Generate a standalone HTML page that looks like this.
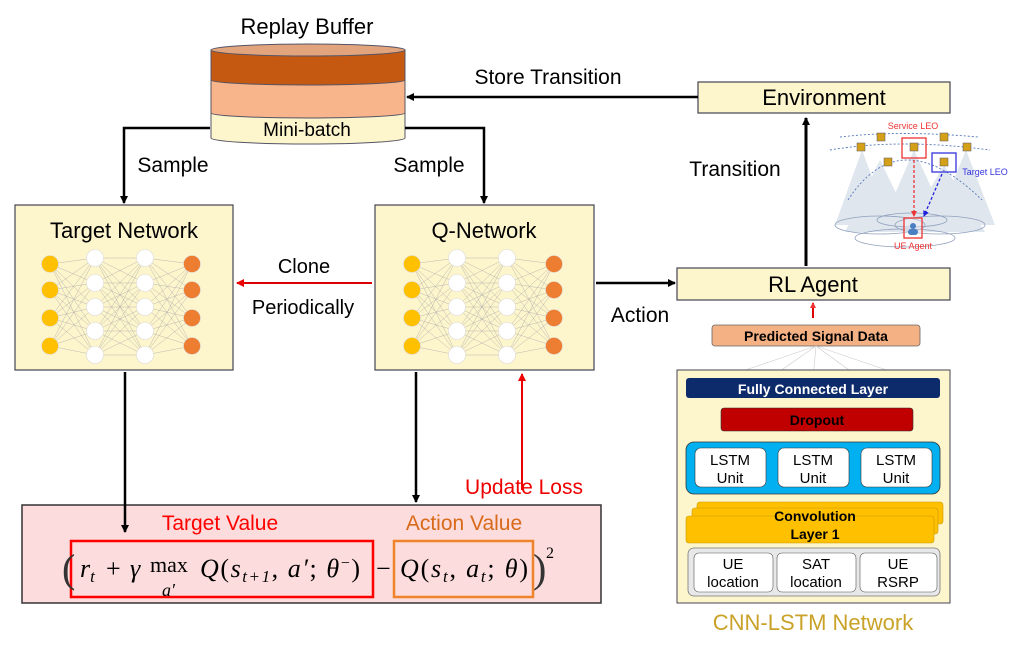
<!DOCTYPE html>
<html><head><meta charset="utf-8"><style>
body{margin:0;background:#fff;}
svg{display:block;font-family:"Liberation Sans",sans-serif;}
</style></head><body>
<svg width="1028" height="645" viewBox="0 0 1028 645" xmlns="http://www.w3.org/2000/svg">
<defs>
<marker id="ab" markerWidth="8" markerHeight="8" refX="7" refY="4" orient="auto" markerUnits="userSpaceOnUse"><path d="M0,0 L8,4 L0,8 z" fill="#000"/></marker>
<marker id="ar" markerWidth="8" markerHeight="8" refX="7" refY="4" orient="auto" markerUnits="userSpaceOnUse"><path d="M0,0 L8,4 L0,8 z" fill="#e00"/></marker>
<marker id="ab2" markerWidth="6" markerHeight="6" refX="5" refY="3" orient="auto" markerUnits="userSpaceOnUse"><path d="M0,0 L6,3 L0,6 z" fill="#22d"/></marker>
<marker id="ar2" markerWidth="6" markerHeight="6" refX="5" refY="3" orient="auto" markerUnits="userSpaceOnUse"><path d="M0,0 L6,3 L0,6 z" fill="#e33"/></marker>
</defs>

<!-- Replay buffer -->
<text x="307" y="34" font-size="22" text-anchor="middle">Replay Buffer</text>
<path d="M211,113 L211,138 A97,6 0 0 0 405,138 L405,113 z" fill="#fdf5cc" stroke="#556" stroke-width="1"/>
<path d="M211,80 L211,113 A97,5 0 0 0 405,113 L405,80 z" fill="#f8b48a" stroke="#556" stroke-width="1"/>
<path d="M211,50 L211,80 A97,5 0 0 0 405,80 L405,50 z" fill="#c65911" stroke="#556" stroke-width="1"/>
<ellipse cx="308" cy="50" rx="97" ry="6" fill="#e2a47c" stroke="#556" stroke-width="1"/>
<text x="307" y="136" font-size="19" text-anchor="middle">Mini-batch</text>

<!-- Environment -->
<rect x="698" y="82" width="252" height="31" fill="#fdf5cc" stroke="#445" stroke-width="1.2"/>
<text x="824" y="105" font-size="22" text-anchor="middle">Environment</text>
<line x1="698" y1="97" x2="407" y2="97" stroke="#000" stroke-width="2.5" marker-end="url(#ab)"/>
<text x="548" y="84" font-size="21" text-anchor="middle">Store Transition</text>

<!-- Sample arrows -->
<polyline points="210,128 124,128 124,203" fill="none" stroke="#000" stroke-width="2.5" marker-end="url(#ab)"/>
<polyline points="405,128 484,128 484,203" fill="none" stroke="#000" stroke-width="2.5" marker-end="url(#ab)"/>
<text x="173" y="172" font-size="21" text-anchor="middle">Sample</text>
<text x="429" y="172" font-size="21" text-anchor="middle">Sample</text>

<!-- Networks -->
<rect x="15" y="205" width="218" height="165" fill="#fdf5cc" stroke="#445" stroke-width="1.2"/>
<text x="124" y="238" font-size="22" text-anchor="middle">Target Network</text>
<rect x="375" y="205" width="219" height="165" fill="#fdf5cc" stroke="#445" stroke-width="1.2"/>
<text x="484" y="238" font-size="22" text-anchor="middle">Q-Network</text>

<!-- Clone -->
<line x1="372" y1="283" x2="237" y2="283" stroke="#d00" stroke-width="2" marker-end="url(#ar)"/>
<text x="304" y="273" font-size="20" text-anchor="middle">Clone</text>
<text x="303" y="314" font-size="20" text-anchor="middle">Periodically</text>

<!-- Action -->
<line x1="596" y1="283" x2="675" y2="283" stroke="#000" stroke-width="2.5" marker-end="url(#ab)"/>
<text x="640" y="322" font-size="21" text-anchor="middle">Action</text>

<!-- RL agent -->
<rect x="677" y="268" width="273" height="32" fill="#fdf5cc" stroke="#445" stroke-width="1.2"/>
<text x="813" y="292" font-size="22" text-anchor="middle">RL Agent</text>
<line x1="806" y1="266" x2="806" y2="118" stroke="#000" stroke-width="3" marker-end="url(#ab)"/>
<text x="735" y="176" font-size="21" text-anchor="middle">Transition</text>
<line x1="813" y1="318" x2="813" y2="303" stroke="#d00" stroke-width="2" marker-end="url(#ar2)"/>

<!-- Satellite scene -->
<g opacity="0.55" fill="#c8d2e0">
<polygon points="862,150 835,225 890,225"/>
<polygon points="880,160 845,232 915,232"/>
<polygon points="914,150 880,228 950,228"/>
<polygon points="944,165 905,232 985,232"/>
<polygon points="966,150 935,225 995,225"/>
</g>
<g fill="none" stroke="#8fa0bd" stroke-width="0.8">
<ellipse cx="880" cy="225" rx="45" ry="9"/>
<ellipse cx="940" cy="225" rx="45" ry="9"/>
<ellipse cx="905" cy="238" rx="50" ry="9"/>
<ellipse cx="912" cy="220" rx="35" ry="7"/>
</g>
<g stroke="#5577bb" stroke-width="0.9" stroke-dasharray="2,2" fill="none">
<path d="M830,150 Q900,138 990,150"/>
<path d="M840,137 Q900,130 978,137"/>
<path d="M848,200 Q900,120 982,200"/>
</g>
<g fill="#d4a017" stroke="#556" stroke-width="0.5">
<rect x="857" y="143" width="8" height="8"/><rect x="877" y="133" width="8" height="8"/>
<rect x="884" y="158" width="8" height="8"/><rect x="910" y="143" width="8" height="8"/>
<rect x="940" y="133" width="8" height="8"/><rect x="963" y="143" width="8" height="8"/>
<rect x="940" y="158" width="8" height="8"/>
</g>
<rect x="902" y="138" width="24" height="20" fill="none" stroke="#e33" stroke-width="1.3"/>
<rect x="932" y="153" width="24" height="19" fill="none" stroke="#33d" stroke-width="1.3"/>
<line x1="914" y1="160" x2="914" y2="216" stroke="#e33" stroke-width="1.3" stroke-dasharray="3,2" marker-end="url(#ar2)"/>
<line x1="942" y1="174" x2="924" y2="216" stroke="#22d" stroke-width="1.3" stroke-dasharray="3,2" marker-end="url(#ab2)"/>
<rect x="904" y="218" width="18" height="20" fill="#fff" fill-opacity="0.3" stroke="#e33" stroke-width="1.3"/>
<circle cx="913" cy="226" r="3" fill="#4a7fc1"/><rect x="908" y="229" width="10" height="6" rx="3" fill="#4a7fc1"/>
<text x="913" y="129" font-size="9" fill="#e33" text-anchor="middle">Service LEO</text>
<text x="985" y="175" font-size="9" fill="#33d" text-anchor="middle">Target LEO</text>
<text x="913" y="249" font-size="9" fill="#e33" text-anchor="middle">UE Agent</text>

<!-- CNN-LSTM -->
<rect x="712" y="325" width="208" height="21" rx="3" fill="#f4b183" stroke="#666" stroke-width="0.8"/>
<text x="816" y="341" font-size="14" font-weight="bold" text-anchor="middle">Predicted Signal Data</text>
<g stroke="#ccc" stroke-width="0.6">
<line x1="816" y1="346" x2="722" y2="378"/><line x1="816" y1="346" x2="770" y2="378"/>
<line x1="816" y1="346" x2="813" y2="378"/><line x1="816" y1="346" x2="860" y2="378"/>
<line x1="816" y1="346" x2="910" y2="378"/>
</g>
<rect x="677" y="370" width="273" height="233" fill="#fdf5cc" stroke="#445" stroke-width="1"/>
<rect x="686" y="378" width="254" height="20" rx="3" fill="#0d2a6b"/>
<text x="813" y="394" font-size="14" font-weight="bold" fill="#fff" text-anchor="middle">Fully Connected Layer</text>
<rect x="721" y="408" width="192" height="23" rx="3" fill="#c00000" stroke="#333" stroke-width="0.6"/>
<text x="817" y="425" font-size="14" font-weight="bold" text-anchor="middle">Dropout</text>
<rect x="686" y="442" width="254" height="52" rx="8" fill="#00b0f0" stroke="#333" stroke-width="0.8"/>
<g font-size="15" text-anchor="middle">
<rect x="695" y="448" width="71" height="39" rx="6" fill="#fff" stroke="#333" stroke-width="0.6"/>
<rect x="778" y="448" width="71" height="39" rx="6" fill="#fff" stroke="#333" stroke-width="0.6"/>
<rect x="861" y="448" width="71" height="39" rx="6" fill="#fff" stroke="#333" stroke-width="0.6"/>
<text x="730" y="465">LSTM</text><text x="730" y="483">Unit</text>
<text x="813" y="465">LSTM</text><text x="813" y="483">Unit</text>
<text x="896" y="465">LSTM</text><text x="896" y="483">Unit</text>
</g>
<rect x="697" y="502" width="246" height="22" rx="3" fill="#ffc000" stroke="#c90" stroke-width="0.6"/>
<rect x="692" y="508" width="246" height="26" rx="3" fill="#ffc000" stroke="#c90" stroke-width="0.6"/>
<rect x="686" y="516" width="248" height="27" rx="3" fill="#ffc000" stroke="#c90" stroke-width="0.6"/>
<text x="815" y="521" font-size="14" font-weight="bold" text-anchor="middle">Convolution</text>
<text x="815" y="539" font-size="14" font-weight="bold" text-anchor="middle">Layer 1</text>
<rect x="688" y="548" width="252" height="48" rx="6" fill="#e8e8e8" stroke="#777" stroke-width="0.8"/>
<g font-size="15" text-anchor="middle">
<rect x="694" y="553" width="79" height="39" rx="5" fill="#fff" stroke="#555" stroke-width="0.6"/>
<rect x="777" y="553" width="79" height="39" rx="5" fill="#fff" stroke="#555" stroke-width="0.6"/>
<rect x="860" y="553" width="77" height="39" rx="5" fill="#fff" stroke="#555" stroke-width="0.6"/>
<text x="733" y="569">UE</text><text x="733" y="587">location</text>
<text x="816" y="569">SAT</text><text x="816" y="587">location</text>
<text x="898" y="569">UE</text><text x="898" y="587">RSRP</text>
</g>
<text x="813" y="630" font-size="22" fill="#c9a227" text-anchor="middle">CNN-LSTM Network</text>

<!-- Loss box -->
<rect x="22" y="505" width="579" height="98" fill="#fcdcdc" stroke="#333" stroke-width="1.5"/>
<line x1="125" y1="372" x2="125" y2="532" stroke="#000" stroke-width="2.5" marker-end="url(#ab)"/>
<line x1="416" y1="372" x2="416" y2="502" stroke="#000" stroke-width="2.5" marker-end="url(#ab)"/>
<line x1="522" y1="490" x2="522" y2="374" stroke="#e00" stroke-width="2" marker-end="url(#ar)"/>
<text x="524" y="494" font-size="21" fill="#e00" text-anchor="middle">Update Loss</text>
<text x="220" y="530" font-size="21" fill="#f00" text-anchor="middle">Target Value</text>
<text x="464" y="530" font-size="21" fill="#d86a1a" text-anchor="middle">Action Value</text>
<rect x="71" y="541" width="302" height="56" fill="none" stroke="#f00" stroke-width="2.5"/>
<rect x="394" y="541" width="139" height="56" fill="none" stroke="#f0842c" stroke-width="2.5"/>
<g font-family="Liberation Serif,serif" font-size="26" font-style="italic">
<text x="62" y="582" font-style="normal" font-size="40" fill="#333">(</text>
<text x="80" y="577">r<tspan font-size="17" dy="5">t</tspan></text>
<text x="106" y="577" font-style="normal">+</text>
<text x="130" y="577">γ</text>
<text x="150" y="572" font-style="normal" font-size="22">max</text>
<text x="162" y="596" font-size="18">a′</text>
<text x="200" y="577" textLength="160">Q<tspan font-style="normal">(</tspan>s<tspan font-size="17" dy="5">t+1</tspan><tspan dy="-5" font-style="normal">, </tspan>a′<tspan font-style="normal">; </tspan>θ<tspan font-size="16" dy="-9" font-style="normal">−</tspan><tspan dy="9" font-style="normal">)</tspan></text>
<text x="376" y="577" font-style="normal">−</text>
<text x="400" y="577" textLength="128">Q<tspan font-style="normal">(</tspan>s<tspan font-size="17" dy="5">t</tspan><tspan dy="-5" font-style="normal">, </tspan>a<tspan font-size="17" dy="5">t</tspan><tspan dy="-5" font-style="normal">; </tspan>θ<tspan font-style="normal">)</tspan></text>
<text x="533" y="582" font-style="normal" font-size="40" fill="#333">)</text>
<text x="546" y="558" font-style="normal" font-size="16">2</text>
</g>
</svg>
<script>
(function(){
var ns="http://www.w3.org/2000/svg",svg=document.querySelector("svg");
function nn(ox){
 var cols=[[ox,[264,290,318,346],"#ffc000"],[ox+45,[258,283,307,331,355],"#fff"],[ox+95,[258,283,307,331,355],"#fff"],[ox+142,[264,290,318,346],"#ed7d31"]];
 var g=document.createElementNS(ns,"g");svg.appendChild(g);
 for(var c=0;c<3;c++)for(var i=0;i<cols[c][1].length;i++)for(var j=0;j<cols[c+1][1].length;j++){
  var l=document.createElementNS(ns,"line");l.setAttribute("x1",cols[c][0]);l.setAttribute("y1",cols[c][1][i]);
  l.setAttribute("x2",cols[c+1][0]);l.setAttribute("y2",cols[c+1][1][j]);l.setAttribute("stroke","#aaa");l.setAttribute("stroke-width","0.4");g.appendChild(l);}
 cols.forEach(function(col){col[1].forEach(function(y){var ci=document.createElementNS(ns,"circle");
  ci.setAttribute("cx",col[0]);ci.setAttribute("cy",y);ci.setAttribute("r","8.5");ci.setAttribute("fill",col[2]);
  ci.setAttribute("stroke","#ddd");ci.setAttribute("stroke-width","0.6");g.appendChild(ci);});});
}
nn(50);nn(412);
})();
</script>
</body></html>
